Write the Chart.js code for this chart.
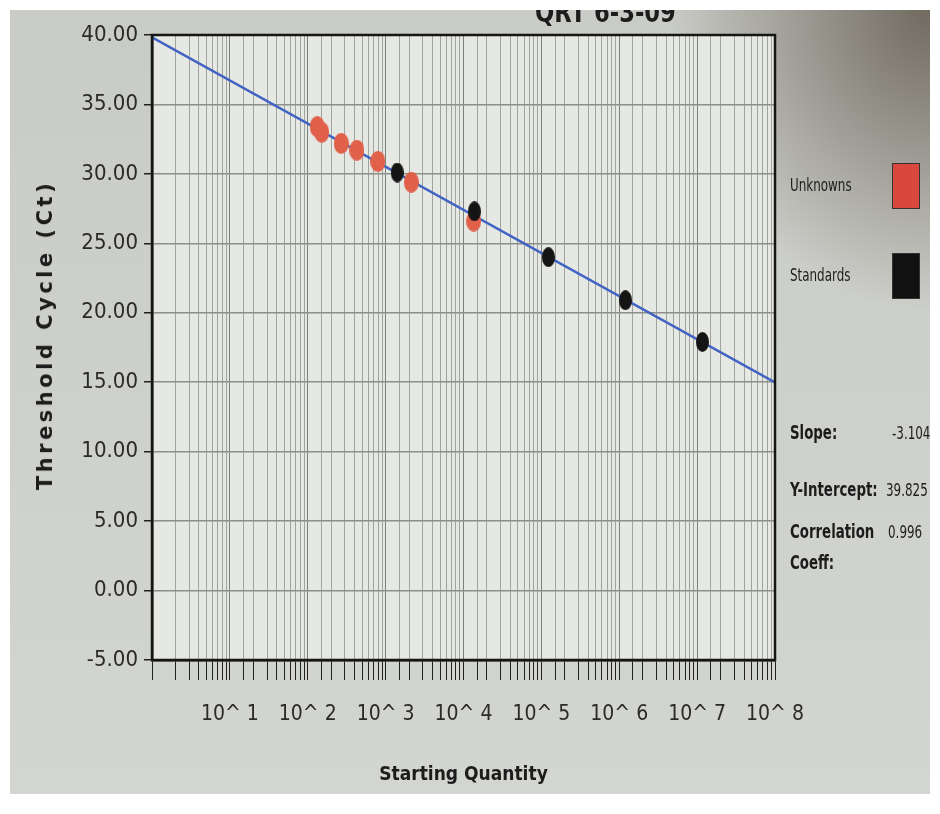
<!DOCTYPE html>
<html>
<head>
<meta charset="utf-8">
<script src="https://cdn.jsdelivr.net/npm/chart.js@4"></script>
<style>
body{margin:0;background:#fff;width:940px;height:814px;overflow:hidden}
#frame{position:absolute;left:10px;top:10px;width:920px;height:784px;overflow:hidden;
background:radial-gradient(ellipse 260px 300px at 100% 0%,rgba(90,82,70,.8),rgba(90,82,70,0)),linear-gradient(#c9cbc6,#d3d5d0)}
canvas{position:absolute;left:0;top:0}
.txt{position:absolute;font-family:'DejaVu Sans Condensed','DejaVu Sans',sans-serif;font-stretch:condensed;color:#1c1c1c;white-space:nowrap;transform:scaleX(.78);transform-origin:0 0}
.b{font-weight:bold}
.sw{position:absolute;width:26px;height:44px;border:1px solid #333}
#ytitle{position:absolute;left:35px;top:325px;font-family:'DejaVu Sans',sans-serif;font-weight:bold;font-size:21px;letter-spacing:3.5px;color:#1c1c1c;white-space:nowrap;transform:translate(-50%,-50%) rotate(-90deg)}
</style>
</head>
<body>
<div id="frame">
<canvas id="grafico" width="920" height="784"></canvas>
<div class="txt b" style="left:525px;top:-14px;font-size:28px;transform:scaleX(.9)">QRT 6-3-09</div>
<div id="ytitle">Threshold Cycle (Ct)</div>

<div class="txt" style="left:780px;top:165px;font-size:17px">Unknowns</div>
<div class="sw" style="left:882px;top:153px;background:#d9473d"></div>
<div class="txt" style="left:780px;top:255px;font-size:17px">Standards</div>
<div class="sw" style="left:882px;top:243px;background:#111"></div>

<div class="txt b" style="left:780px;top:411px;font-size:19px">Slope:</div>
<div class="txt" style="left:882px;top:413px;font-size:17px">-3.104</div>
<div class="txt b" style="left:780px;top:468px;font-size:19px">Y-Intercept:</div>
<div class="txt" style="left:876px;top:470px;font-size:17px">39.825</div>
<div class="txt b" style="left:780px;top:510px;font-size:19px">Correlation</div>
<div class="txt" style="left:878px;top:512px;font-size:17px">0.996</div>
<div class="txt b" style="left:780px;top:541px;font-size:19px">Coeff:</div>
</div>

<script>
// ---------------- DADOS ----------------
const unknownQty = [132, 151, 269, 427, 794, 2140, 13500]
const unknownCt = [33.4, 33.0, 32.2, 31.7, 30.9, 29.4, 26.6]

const standardQty = [1410, 13800, 123000, 1200000, 11700000]
const standardCt = [30.1, 27.3, 24.0, 20.9, 17.9]

// linha da curva padrao (pontas)
const fitQty = [1, 100000000]
const fitCt = [39.825, 14.993]

const yTicks = [-5, 0, 5, 10, 15, 20, 25, 30, 35, 40]

const fonte = "'DejaVu Sans Condensed','DejaVu Sans',sans-serif"

// ---------------- PONTOS ----------------
function bolinha(cor, w, h){
const c = document.createElement("canvas")
c.width = w
c.height = h
const g = c.getContext("2d")
g.fillStyle = cor
g.beginPath()
g.ellipse(w/2, h/2, w/2, h/2, 0, 0, Math.PI*2)
g.fill()
return c
}

const pontoVermelho = bolinha("#e0604a", 15, 21)
const pontoPreto = bolinha("#151515", 13, 20)

// ---------------- FUNDO / MOLDURA ----------------
const moldura = {
id:"moldura",
beforeDraw(chart){
const a = chart.chartArea
const ctx = chart.ctx
ctx.save()
ctx.fillStyle = "#e6e8e3"
ctx.fillRect(a.left, a.top, a.right-a.left, a.bottom-a.top)
ctx.restore()
},
afterDraw(chart){
const a = chart.chartArea
const ctx = chart.ctx
ctx.save()
ctx.strokeStyle = "#151515"
ctx.lineWidth = 2.5
ctx.strokeRect(a.left, a.top, a.right-a.left, a.bottom-a.top)
ctx.restore()
}
}

// ---------------- GRAFICO ----------------
new Chart(document.getElementById("grafico"),{
type:"scatter",
data:{
datasets:[{
label:"Unknowns",
data:unknownQty.map((q,i)=>({x:q, y:unknownCt[i]})),
pointStyle:pontoVermelho,
order:1
},{
label:"Standards",
data:standardQty.map((q,i)=>({x:q, y:standardCt[i]})),
pointStyle:pontoPreto,
order:0
},{
label:"Fit",
data:fitQty.map((q,i)=>({x:q, y:fitCt[i]})),
showLine:true,
pointRadius:0,
borderColor:"#4163c4",
borderWidth:2.5,
order:5
}]
},
options:{
responsive:false,
animation:false,
layout:{padding:{top:25, right:155, left:0, bottom:0}},
plugins:{legend:{display:false}, tooltip:{enabled:false}},
scales:{
x:{
type:"logarithmic",
min:1,
max:100000000,
afterFit(s){ s.height = 134 },
border:{color:"#151515", width:2.5},
grid:{
color:c => c.tick && c.tick.major ? "#7d807b" : "#a0a39e",
lineWidth:1,
tickLength:20,
tickColor:"#222"
},
ticks:{
autoSkip:false,
maxRotation:0,
padding:22,
color:"#2a2a2a",
font:{family:fonte, size:21},
callback(v){
const e = Math.round(Math.log10(v))
if (Math.abs(Math.log10(v) - e) > 1e-6 || e < 1) return ""
return "10^ " + e
}
},
title:{
display:true,
text:"Starting Quantity",
color:"#1c1c1c",
font:{family:fonte, size:19, weight:"bold"},
padding:{top:0, bottom:8}
}
},
y:{
min:-5,
max:40,
afterFit(s){ s.width = 142 },
afterBuildTicks(s){ s.ticks = yTicks.map(v=>({value:v})) },
border:{color:"#151515", width:2.5},
grid:{
color:"#8c8f8a",
lineWidth:1.5,
tickLength:8,
tickColor:"#222"
},
ticks:{
padding:6,
color:"#2a2a2a",
font:{family:fonte, size:22},
callback:v => v.toFixed(2)
}
}
}
},
plugins:[moldura]
})
</script>
</body>
</html>
